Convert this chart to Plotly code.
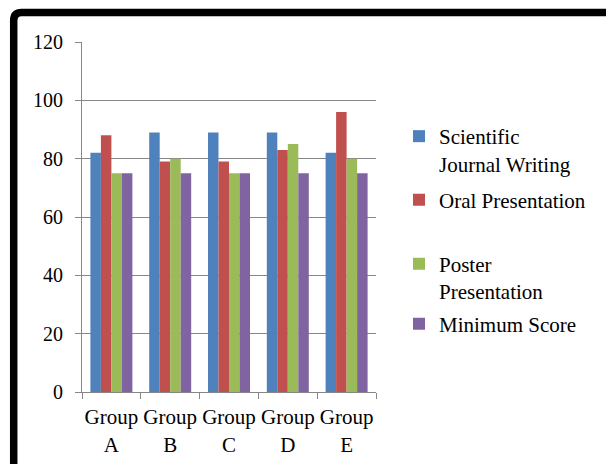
import plotly.graph_objects as go

categories = ["Group<br>A", "Group<br>B", "Group<br>C", "Group<br>D", "Group<br>E"]
scientific_journal_writing = [82, 89, 89, 89, 82]
oral_presentation = [88, 79, 79, 83, 96]
poster_presentation = [75, 80, 75, 85, 80]
minimum_score = [75, 75, 75, 75, 75]
y_ticks = [0, 20, 40, 60, 80, 100, 120]

series = [
    ("Scientific<br>Journal Writing", scientific_journal_writing, "#4F81BD", "legend"),
    ("Oral Presentation", oral_presentation, "#C0504D", "legend2"),
    ("Poster<br>Presentation", poster_presentation, "#9BBB59", "legend3"),
    ("Minimum Score", minimum_score, "#8064A2", "legend4"),
]

# page body has an 8px default margin: work in screen coordinates, convert to figure ones
OFF = 8
W, H = 614 - OFF, 464 - OFF
L, R, T, B = 82, 376, 42, 392          # plot area in screen pixels
pw, ph = R - L, B - T

def px(xs):
    return (xs - L) / pw

def py(ys):
    return (B - ys) / ph

FONT = "Liberation Serif"

fig = go.Figure()
for name, vals, color, leg in series:
    fig.add_trace(go.Bar(x=categories, y=vals, name=name, marker=dict(color=color, line=dict(width=0)),
                         legend=leg, hoverinfo="skip"))

legend_tops = [116, 179.5, 243.5, 303.5]
layout_legends = {}
for key, top in zip(["legend", "legend2", "legend3", "legend4"], legend_tops):
    layout_legends[key] = dict(x=px(399), y=py(top), xanchor="left", yanchor="top",
                               font=dict(family=FONT, size=21, color="#000000"),
                               valign="top", bgcolor="rgba(0,0,0,0)", borderwidth=0)

fig.update_layout(
    width=W, height=H,
    margin=dict(l=L - OFF, r=W - (R - OFF), t=T - OFF, b=H - (B - OFF), pad=0, autoexpand=False),
    paper_bgcolor="white", plot_bgcolor="white",
    barmode="group", bargap=0.286, bargroupgap=0,
    font=dict(family=FONT, size=20, color="#000000"),
    showlegend=True,
    **layout_legends,
)
fig.update_yaxes(range=[0, 120], tickvals=y_ticks, showgrid=True, gridcolor="#868686", gridwidth=1,
                 showline=True, linecolor="#868686", linewidth=1, ticks="outside", ticklen=6,
                 tickcolor="#868686", tickfont=dict(family=FONT, size=20, color="#000000"),
                 ticklabelstandoff=8, zeroline=False, automargin=False)
fig.update_xaxes(showline=True, linecolor="#868686", linewidth=1, ticks="outside", ticklen=6,
                 tickcolor="#868686", tickson="boundaries", showgrid=False, tickangle=0,
                 tickfont=dict(family=FONT, size=21, color="#000000"), ticklabelstandoff=6,
                 automargin=False)

# decorative frame (left and top edges)
r = 8
xf, yf = 13.7, 12.5
path = (f"M {px(xf)},{py(480)} L {px(xf)},{py(yf + r)} "
        f"Q {px(xf)},{py(yf)} {px(xf + r)},{py(yf)} L {px(640)},{py(yf)}")
fig.add_shape(type="path", path=path, xref="paper", yref="paper",
              line=dict(color="#000000", width=7.5), layer="above")

fig.write_html("out.html")
